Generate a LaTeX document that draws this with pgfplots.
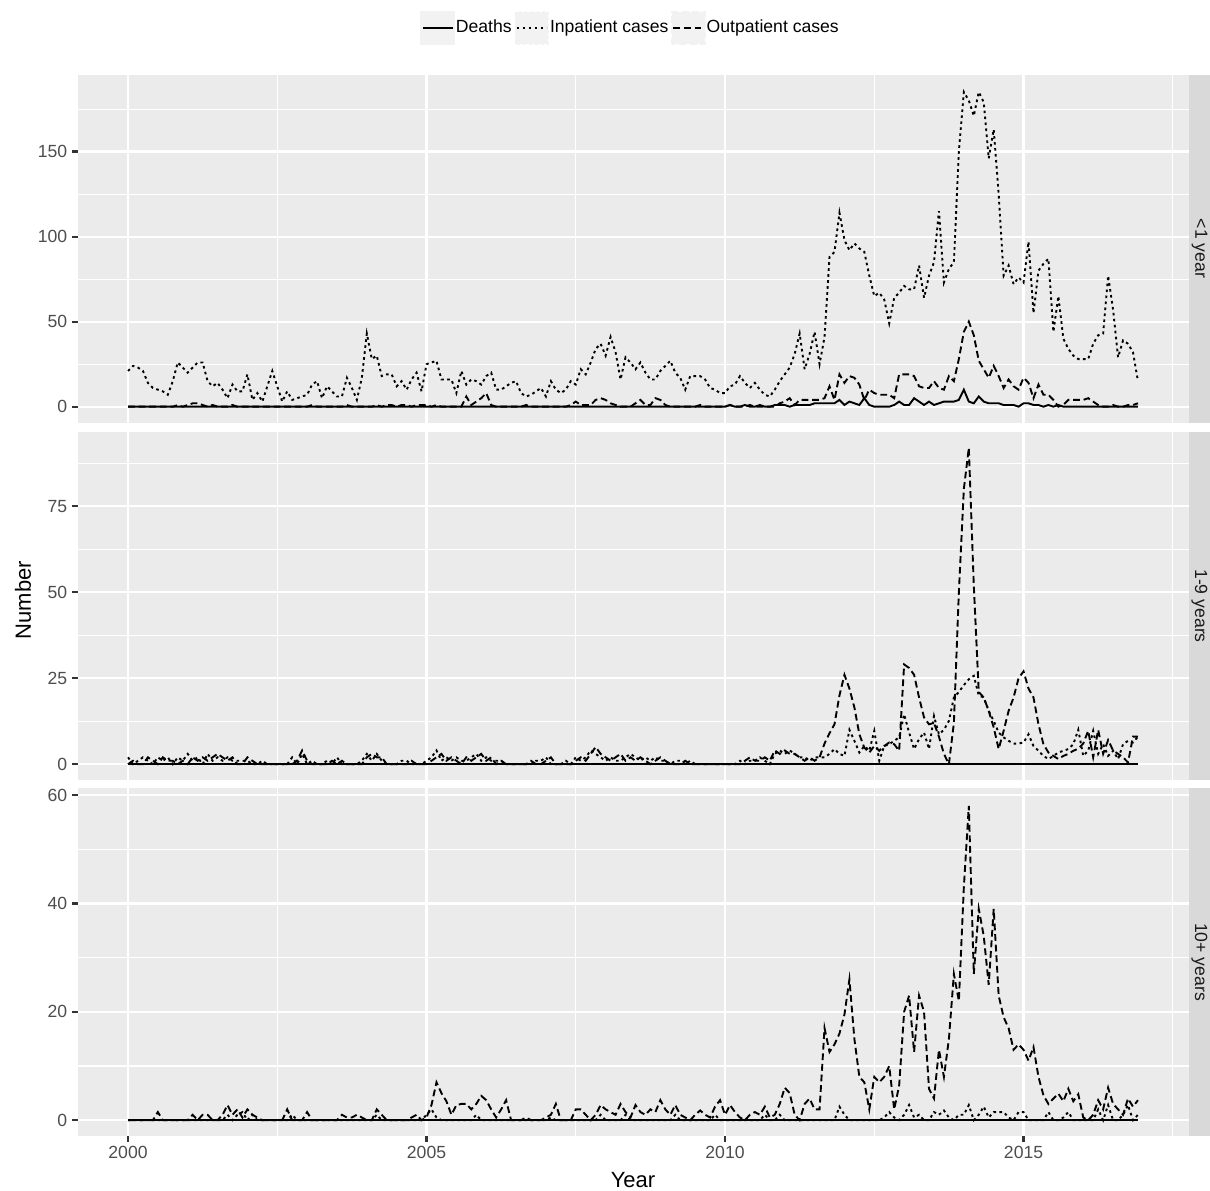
\documentclass[border=0pt]{standalone}
\usepackage{fontspec}
\setmainfont{Liberation Sans}
\usepackage{pgfplots}
\pgfplotsset{compat=1.18}
\usepackage{pgfplotstable}
\definecolor{ggbg}{HTML}{EBEBEB}
\definecolor{ggstrip}{HTML}{D9D9D9}
\definecolor{ggkey}{HTML}{F2F2F2}
\definecolor{ggtick}{HTML}{333333}
\definecolor{ggtext}{HTML}{4D4D4D}
\definecolor{ggstriptext}{HTML}{1A1A1A}

\pgfplotstableread{
m d i o
0 0 21 0
1 0 24 0
2 0 23 0
3 0 21 0
4 0 14 0
5 0 11 0
6 0 10 0
7 0 9 0
8 0 7 0
9 0 15 0
10 0 26 1
11 0 23 0
12 0 20 1
13 0 23 2
14 0 26 2
15 0 26 1
16 0 15 0
17 0 12 1
18 0 14 0
19 0 10 0
20 0 5 0
21 0 13 1
22 0 9 0
23 0 9 0
24 0 19 0
25 0 4 0
26 0 8 0
27 0 3 0
28 0 12 0
29 0 21 0
30 0 12 0
31 0 3 0
32 0 9 0
33 0 4 0
34 0 5 0
35 0 6 0
36 0 7 0
37 0 13 1
38 0 15 0
39 0 5 0
40 0 12 0
41 0 9 0
42 0 6 0
43 0 6 0
44 0 17 1
45 0 11 0
46 0 4 0
47 0 17 0
48 0 43 0
49 0 28 0
50 0 30 1
51 0 18 0
52 0 19 1
53 0 19 1
54 0 12 0
55 0 15 1
56 0 10 1
57 0 16 0
58 0 20 1
59 0 9 1
60 0 25 1
61 0 26 0
62 0 27 1
63 0 16 0
64 0 16 0
65 0 16 0
66 0 8 0
67 0 21 0
68 0 13 6
69 0 16 1
70 0 15 3
71 0 13 5
72 0 18 8
73 0 20 1
74 0 10 0
75 0 10 0
76 0 12 0
77 0 14 0
78 0 15 0
79 0 8 0
80 0 6 1
81 0 7 0
82 0 9 0
83 0 11 0
84 0 6 0
85 0 15 0
86 0 10 0
87 0 8 0
88 0 10 0
89 0 15 1
90 0 13 3
91 0 22 1
92 0 19 1
93 0 26 1
94 0 34 4
95 0 37 5
96 0 30 4
97 0 41 2
98 0 32 1
99 0 16 0
100 0 29 0
101 0 26 0
102 0 22 2
103 0 26 4
104 0 20 1
105 0 16 1
106 0 16 5
107 0 21 4
108 0 24 1
109 0 27 0
110 0 20 0
111 0 17 0
112 0 10 0
113 0 18 0
114 0 18 0
115 0 18 1
116 0 16 0
117 0 11 0
118 0 10 0
119 0 8 0
120 0 8 0
121 1 12 1
122 0 13 0
123 0 18 0
124 1 14 0
125 0 11 1
126 0 14 0
127 1 10 0
128 0 7 0
129 0 6 0
130 1 10 0
131 1 15 2
132 1 19 3
133 0 23 5
134 1 31 1
135 1 43 4
136 1 22 4
137 1 31 4
138 2 44 4
139 2 25 4
140 2 41 5
141 2 88 12
142 2 91 4
143 4 114 19
144 1 98 14
145 3 92 18
146 2 96 17
147 1 93 13
148 5 91 4
149 1 77 10
150 0 65 8
151 0 67 7
152 0 63 7
153 0 49 7
154 1 64 5
155 3 67 19
156 1 71 19
157 1 69 19
158 5 69 18
159 3 83 12
160 1 64 11
161 3 77 11
162 1 85 15
163 2 115 11
164 3 73 10
165 3 81 18
166 3 85 15
167 4 150 28
168 10 185 44
169 3 180 50
170 2 171 42
171 6 185 27
172 3 179 22
173 2 146 17
174 2 163 24
175 2 125 18
176 1 77 11
177 1 83 16
178 1 72 12
179 0 76 10
180 2 73 17
181 2 97 14
182 1 55 5
183 1 80 13
184 0 84 7
185 1 87 7
186 0 44 4
187 1 65 0
188 0 40 1
189 0 34 4
190 0 30 4
191 0 28 4
192 0 28 4
193 0 28 5
194 0 37 3
195 0 42 1
196 0 43 0
197 0 77 0
198 0 57 1
199 0 29 0
200 0 39 0
201 0 37 1
202 0 32 1
203 0 15 2
}\tableA

\pgfplotstableread{
m d i o
0 0 2 0
1 0 0 1
2 0 1 0
3 0 2 0
4 0 1 2
5 0 0 1
6 0 2 0
7 0 1 2
8 0 2 1
9 0 0 1
10 0 2 0
11 0 1 1
12 0 3 0
13 0 1 2
14 0 2 1
15 0 0 2
16 0 3 1
17 0 1 2
18 0 2 3
19 0 1 2
20 0 2 1
21 0 1 2
22 0 1 0
23 0 1 0
24 0 1 2
25 0 0 1
26 0 0 0
27 0 1 0
28 0 0 0
29 0 0 0
30 0 0 0
31 0 0 0
32 0 0 0
33 0 2 0
34 0 0 1
35 0 3 4
36 0 0 1
37 0 1 0
38 0 0 0
39 0 0 0
40 0 1 0
41 0 0 1
42 0 2 0
43 0 0 1
44 0 0 0
45 0 0 0
46 0 0 0
47 0 1 0
48 0 3 2
49 0 1 3
50 0 3 2
51 0 1 2
52 0 0 0
53 0 0 0
54 0 0 0
55 0 1 0
56 0 1 0
57 0 0 1
58 0 0 0
59 0 0 0
60 0 1 0
61 0 2 1
62 0 4 2
63 0 1 3
64 0 2 1
65 0 1 2
66 0 2 1
67 0 1 0
68 0 1 2
69 0 2 1
70 0 3 2
71 0 1 3
72 0 2 1
73 0 1 2
74 0 1 0
75 0 1 1
76 0 0 0
77 0 0 0
78 0 0 0
79 0 0 0
80 0 0 0
81 0 0 1
82 0 1 0
83 0 1 0
84 0 2 1
85 0 0 2
86 0 0 0
87 0 0 0
88 0 1 0
89 0 0 0
90 0 2 1
91 0 1 2
92 0 2 1
93 0 4 3
94 0 3 5
95 0 2 3
96 0 1 2
97 0 2 1
98 0 1 2
99 0 1 3
100 0 2 1
101 0 3 2
102 0 2 1
103 0 1 2
104 0 2 1
105 0 1 0
106 0 2 1
107 0 1 2
108 0 1 1
109 0 0 0
110 0 1 0
111 0 1 0
112 0 0 1
113 0 1 0
114 0 0 0
115 0 0 0
116 0 0 0
117 0 0 0
118 0 0 0
119 0 0 0
120 0 0 0
121 0 0 0
122 0 0 0
123 0 1 0
124 0 0 1
125 0 1 2
126 0 1 1
127 0 2 1
128 0 1 2
129 0 0 1
130 0 3 4
131 0 4 3
132 0 3 4
133 0 4 3
134 0 3 3
135 0 2 2
136 0 2 1
137 0 1 2
138 0 2 1
139 0 2 2
140 0 2 6
141 0 3 9
142 0 4.4 11.6
143 0 3 20
144 0 2.4 26
145 0 10 22
146 0 6.8 16.5
147 0 3.4 8.7
148 0 5.3 4.8
149 0 3.9 3.4
150 0 9.7 5.3
151 0 1 3.9
152 0 5.3 5.3
153 0 5.8 6.3
154 0 6.8 5.8
155 0 7.8 3.9
156 0 14.5 29
157 0 9.2 28
158 0 4.4 26
159 0 7.3 19.4
160 0 9.2 13.6
161 0 4.4 11.6
162 0 14 12
163 0 8.7 8
164 0 10 3
165 0 12.6 0
166 0 19.4 12
167 0 21 50
168 0 23 80
169 0 24.7 92
170 0 25.7 52
171 0 20 21
172 0 19.4 19.4
173 0 15.5 15.5
174 0 12.6 10.7
175 0 9.2 4.4
176 0 7.8 9.7
177 0 6.8 15.5
178 0 6 19.4
179 0 6 25
180 0 6.3 27
181 0 8.7 22
182 0 5.3 19.4
183 0 3.9 11.6
184 0 2.4 5.8
185 0 1.5 3.4
186 0 2.4 2.4
187 0 3.4 1.5
188 0 3.9 2.4
189 0 4.4 3
190 0 5.8 3.9
191 0 10 4.5
192 0 2.4 6
193 0 3.9 9.7
194 0 9.7 2
195 0 3 10
196 0 5.8 3
197 0 2.4 7
198 0 3.9 4
199 0 1.5 3
200 0 5.8 2
201 0 6.8 0.5
202 0 6.3 8
203 0 8 8
}\tableB

\pgfplotstableread{
m d i o
0 0 0 0
1 0 0 0
2 0 0 0
3 0 0 0
4 0 0 0
5 0 0 0
6 0 0 1.5
7 0 0 0
8 0 0 0
9 0 0 0
10 0 0 0
11 0 0 0
12 0 0 0
13 0 0 1
14 0 0 0
15 0 0 1
16 0 0 1
17 0 0 0
18 0 0 0
19 0 0 1
20 0 1 2.8
21 0 0 1
22 0 1 2
23 0 1.5 0.5
24 0 0 2
25 0 1 1
26 0 0 0.5
27 0 0 0
28 0 0 0
29 0 0 0
30 0 0 0
31 0 0 0
32 0 0 2
33 0 1 0
34 0 0 0
35 0 0 0
36 0 0 1.5
37 0 0 0
38 0 0 0
39 0 0 0
40 0 0 0
41 0 0 0
42 0 0 0
43 0 0 1
44 0 0 0.5
45 0 0 0.5
46 0 0 1
47 0 0 0.5
48 0 0 0
49 0 0 0
50 0 1 2
51 0 0 1
52 0 0 0
53 0 0 0
54 0 0 0
55 0 0 0
56 0 0 0
57 0 0 0.5
58 0 0 1
59 0 0 0
60 0 1 0.5
61 0 2 2.8
62 0 0.5 7
63 0 0 5
64 0 0 3.5
65 0 0 1
66 0 0 2.8
67 0 0 3
68 0 0 3
69 0 0 2
70 0 1 3
71 0 0 4.5
72 0 0 3.7
73 0 0 2
74 0 0 0.5
75 0 0 2
76 0 0 3.7
77 0 0 0
78 0 0 0
79 0 0 0
80 0 0 0.5
81 0 0 0
82 0 0 0
83 0 0 0
84 0 0 0.5
85 0 0.5 1
86 0 0 3
87 0 0 0
88 0 0 0
89 0 0 0
90 0 0 2
91 0 0 2
92 0 0 1
93 0 0 0
94 0 0 1
95 0 1 2.8
96 0 0 2
97 0 0 1.5
98 0 0 1
99 0 0 3
100 0 1 1.5
101 0 0 0.5
102 0 0 2.8
103 0 0 1.5
104 0 0 1
105 0 0 2
106 0 0 1.5
107 0 0 3.7
108 0 0 2
109 0 0 1
110 0 1 2.8
111 0 0 1
112 0 0 0.5
113 0 0 0
114 0 0 1
115 0 0 1.8
116 0 0 1
117 0 0 0.5
118 0 1 2.5
119 0 0 3.7
120 0 0 1
121 0 0 2.8
122 0 0 1.5
123 0 0 0.5
124 0 0 0
125 0 0 1
126 0 0 1.5
127 0 0 1
128 0 1 2.5
129 0 0 0.5
130 0 0 1
131 0 1 3
132 0 0 6
133 0 0 5
134 0 0 1
135 0 0 0
136 0 0 3
137 0 0 4
138 0 0 2
139 0 0 2
140 0 0 17
141 0 0 12.6
142 0 0 14
143 0 2.5 16
144 0 1 19.5
145 0 0 26
146 0 0 15
147 0 0 8
148 0 0 7
149 0 0 2
150 0 0 8
151 0 0 7
152 0 0.5 8
153 0 1.5 10
154 0 0.5 2
155 0 0 6.4
156 0 1 20
157 0 2.8 23
158 0 0.5 12.6
159 0 1 23
160 0 0 20
161 0 0 5.8
162 0 1.5 4
163 0 1 13
164 0 1.8 8
165 0 0.5 15
166 0 0 27
167 0 1 22
168 0 1 43
169 0 2.8 58
170 0 0 27
171 0 1 39
172 0 2.5 34
173 0 0.5 25
174 0 1.5 39
175 0 1.5 23
176 0 1.5 19
177 0 0.5 17
178 0 0 13
179 0 1.5 14
180 0 1.5 13
181 0 0 11
182 0 0 13.5
183 0 0 8
184 0 0 4.6
185 0 1.5 3
186 0 0 4
187 0 0 4.9
188 0 0.5 3.5
189 0 1.5 5.8
190 0 0 3.5
191 0 0 4.8
192 0 0 0.5
193 0 0 0
194 0 0 1
195 0 2 3.7
196 0 0 2
197 0 2.8 6
198 0 0 3
199 0 0 2
200 0 1 1
201 0 2.8 4
202 0 0 2.5
203 0 1 3.7
}\tableC

\pgfplotsset{
  ggpanel/.style={
    scale only axis, width=555.5pt, height=174pt,
    xmin=1999.154, xmax=2017.763,
    anchor=south west,
    axis background/.style={fill=ggbg},
    axis line style={draw=none},
    xmajorgrids, ymajorgrids, xminorgrids, yminorgrids,
    major grid style={white, line width=1.07pt},
    minor grid style={white, line width=0.53pt},
    xtick={2000,2005,2010,2015},
    minor xtick={2002.5,2007.5,2012.5,2017.5},
    tick align=outside, tick pos=left,
    major tick length=2.75pt, minor tick length=0pt,
    tick style={ggtick, line width=1.07pt},
    tick label style={font=\fontsize{8.8}{10}\selectfont, text=ggtext, inner sep=2.2pt},
    /pgf/number format/assume math mode=true,
    /pgf/number format/1000 sep={},
  },
  deaths/.style={black, line width=0.95pt, solid},
  inpat/.style={black, line width=0.95pt, dash pattern=on 1.3pt off 1.7pt},
  outpat/.style={black, line width=0.95pt, dash pattern=on 3.4pt off 1.9pt},
}

\begin{document}
\begin{tikzpicture}
\path (0,0) rectangle (605pt,-595pt);

% Panel 1
\begin{axis}[ggpanel, at={(38.75pt,-211.25pt)},
  ymin=-9.3, ymax=195.3,
  ytick={0,50,100,150}, minor ytick={25,75,125,175},
  xmajorticks=false, xticklabels={},
  legend columns=3,
  legend cell align=left,
  legend style={at={(0.4975,1)}, anchor=center, yshift=23.25pt,
    draw=none, fill=none, inner sep=0pt,
    font=\fontsize{8.8}{10}\selectfont,
    nodes={inner sep=0.6pt},
    /tikz/every even column/.append style={column sep=0.8pt}},
  legend image code/.code={
    \fill[ggkey] (0pt,-8.2pt) rectangle (16.2pt,8.2pt);
    \draw[#1] (0.6pt,0pt) -- (15.6pt,0pt);},
]
\addplot[deaths] table[x expr=2000+\thisrow{m}/12, y=d] {\tableA};
\addlegendentry{Deaths}
\addplot[inpat] table[x expr=2000+\thisrow{m}/12, y=i] {\tableA};
\addlegendentry{Inpatient cases}
\addplot[outpat] table[x expr=2000+\thisrow{m}/12, y=o] {\tableA};
\addlegendentry{Outpatient cases}
\end{axis}

% Panel 2
\begin{axis}[ggpanel, at={(38.75pt,-390pt)},
  ymin=-4.6, ymax=96.6,
  ytick={0,25,50,75}, minor ytick={12.5,37.5,62.5,87.5},
  xmajorticks=false, xticklabels={},
]
\addplot[deaths] table[x expr=2000+\thisrow{m}/12, y=d] {\tableB};
\addplot[inpat] table[x expr=2000+\thisrow{m}/12, y=i] {\tableB};
\addplot[outpat] table[x expr=2000+\thisrow{m}/12, y=o] {\tableB};
\end{axis}

% Panel 3
\begin{axis}[ggpanel, at={(38.75pt,-568pt)},
  ymin=-2.92, ymax=61.32,
  ytick={0,20,40,60}, minor ytick={10,30,50},
]
\addplot[deaths] table[x expr=2000+\thisrow{m}/12, y=d] {\tableC};
\addplot[inpat] table[x expr=2000+\thisrow{m}/12, y=i] {\tableC};
\addplot[outpat] table[x expr=2000+\thisrow{m}/12, y=o] {\tableC};
\end{axis}

% facet strips
\fill[ggstrip] (594.5pt,-211.25pt) rectangle (605pt,-37.25pt);
\fill[ggstrip] (594.5pt,-390pt) rectangle (605pt,-216pt);
\fill[ggstrip] (594.5pt,-568pt) rectangle (605pt,-394pt);
\node[rotate=-90, text=ggstriptext, font=\fontsize{8.8}{10}\selectfont, inner sep=0pt] at (599.75pt,-124.25pt) {<1 year};
\node[rotate=-90, text=ggstriptext, font=\fontsize{8.8}{10}\selectfont, inner sep=0pt] at (599.75pt,-303pt) {1-9 years};
\node[rotate=-90, text=ggstriptext, font=\fontsize{8.8}{10}\selectfont, inner sep=0pt] at (599.75pt,-481pt) {10+ years};

% axis titles
\node[rotate=90, font=\fontsize{11}{13}\selectfont, inner sep=0pt] at (11.5pt,-300pt) {Number};
\node[anchor=base, font=\fontsize{11}{13}\selectfont, inner sep=0pt] at (316.5pt,-593.5pt) {Year};
\end{tikzpicture}
\end{document}
